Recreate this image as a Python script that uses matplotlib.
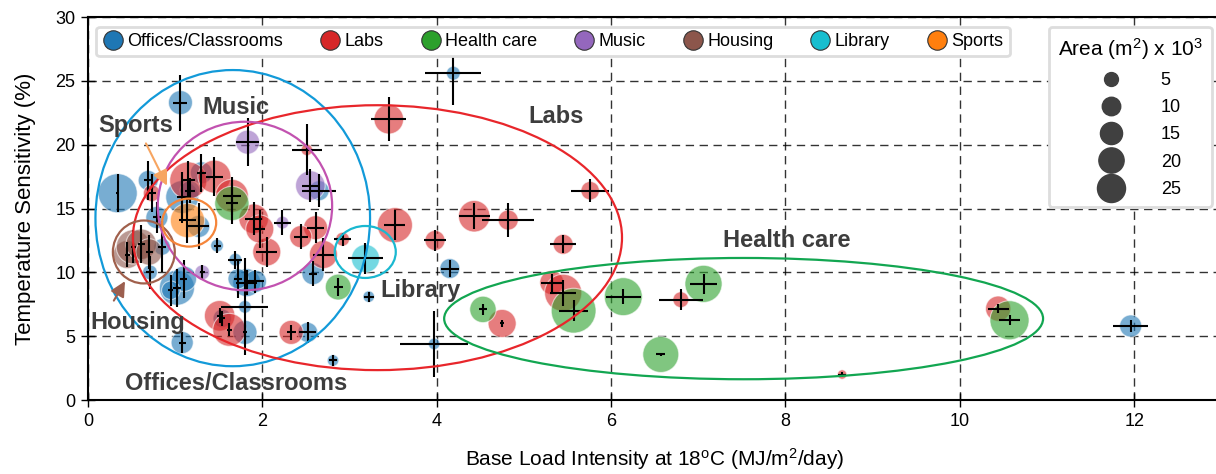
import numpy as np
import matplotlib
matplotlib.use("Agg")
import matplotlib.pyplot as plt
from matplotlib.patches import Ellipse
from matplotlib.lines import Line2D

plt.rcParams['font.family'] = ['Liberation Sans', 'DejaVu Sans']
plt.rcParams['mathtext.default'] = 'regular'

# ---- data: base load intensity (MJ/m2/day), temperature sensitivity (%),
#      floor area (10^3 m2), and uncertainty on both axes ----
off_x = [0.34, 1.06, 4.19, 4.15, 3.97, 3.22, 2.81, 2.52, 11.96, 1.08, 1.69, 2.58, 2.65,
         1.80, 1.82, 1.92, 1.72, 0.71, 1.02, 1.80, 1.48, 0.69, 0.79, 1.08, 0.85, 1.30,
         1.17, 1.54, 1.10, 0.95, 1.27]
off_y = [16.2, 23.3, 25.6, 10.3, 4.4, 8.1, 3.1, 5.3, 5.8, 4.5, 11.0, 9.9, 16.4,
         5.3, 9.2, 9.3, 9.5, 10.0, 8.8, 7.3, 12.1, 17.2, 14.3, 15.9, 12.0, 17.8,
         16.4, 6.4, 9.5, 8.6, 13.6]
off_area = [50, 18, 5, 12, 3, 3, 3, 12, 15, 15, 4, 15, 12,
            18, 25, 15, 12, 6, 40, 4, 4, 12, 15, 35, 8, 15,
            12, 10, 20, 10, 15]
off_xerr = [0.02, 0.08, 0.32, 0.10, 0.39, 0.06, 0.05, 0.10, 0.20, 0.04, 0.08, 0.05, 0.20,
            0.02, 0.12, 0.10, 0.05, 0.05, 0.05, 0.27, 0.04, 0.05, 0.05, 0.06, 0.05, 0.05,
            0.06, 0.03, 0.04, 0.03, 0.12]
off_yerr = [1.5, 2.2, 2.5, 0.7, 2.6, 0.4, 0.4, 0.8, 0.5, 0.8, 0.7, 1.0, 1.3,
            0.6, 1.0, 0.9, 1.5, 1.3, 1.5, 3.8, 0.6, 1.5, 1.2, 2.0, 2.0, 1.5,
            1.0, 0.6, 1.5, 1.2, 1.8]

lab_x = [3.45, 2.51, 5.76, 4.43, 4.82, 5.45, 3.98, 3.52, 2.92, 2.70, 2.61, 2.44, 2.05,
         1.90, 1.97, 2.33, 5.32, 5.45, 4.75, 6.80, 8.65, 10.44, 1.51, 1.62, 1.15, 1.45,
         1.65, 0.73]
lab_y = [22.0, 19.6, 16.4, 14.4, 14.1, 12.2, 12.5, 13.7, 12.6, 11.4, 13.5, 12.8, 11.6,
         14.2, 13.4, 5.3, 9.2, 8.4, 6.0, 7.86, 2.0, 7.16, 6.6, 5.5, 17.2, 17.5,
         16.0, 16.2]
lab_area = [28, 3, 10, 32, 12, 12, 12, 40, 5, 25, 18, 15, 25,
            28, 25, 18, 18, 45, 25, 7, 1.5, 20, 30, 35, 45, 35,
            35, 8]
lab_xerr = [0.20, 0.17, 0.22, 0.18, 0.30, 0.15, 0.13, 0.12, 0.10, 0.12, 0.10, 0.08, 0.12,
            0.10, 0.06, 0.05, 0.12, 0.15, 0.02, 0.25, 0.05, 0.12, 0.03, 0.03, 0.08, 0.10,
            0.10, 0.05]
lab_yerr = [1.7, 2.0, 0.9, 1.0, 1.3, 0.7, 0.8, 1.2, 0.5, 1.3, 1.2, 1.0, 1.2,
            1.3, 1.5, 0.6, 0.7, 1.0, 0.3, 0.8, 0.2, 0.35, 0.6, 0.5, 1.5, 1.5,
            1.5, 1.5]

hc_x = [2.87, 4.53, 5.57, 6.14, 7.06, 6.57, 10.57, 1.65]
hc_y = [8.85, 7.1, 7.0, 8.1, 9.1, 3.57, 6.25, 15.4]
hc_area = [21, 22, 66, 47, 45, 42, 50, 38]
hc_xerr = [0.05, 0.05, 0.17, 0.20, 0.16, 0.05, 0.12, 0.07]
hc_yerr = [0.7, 0.4, 0.8, 0.6, 0.8, 0.15, 0.4, 1.6]

mus_x = [1.83, 2.55, 2.23, 1.31]
mus_y = [20.2, 16.8, 13.9, 10.0]
mus_area = [18, 28, 4, 6]
mus_xerr = [0.13, 0.10, 0.10, 0.03]
mus_yerr = [1.9, 1.3, 1.0, 0.6]

hou_x = [0.45, 0.52, 0.61, 0.70]
hou_y = [11.4, 12.0, 12.2, 11.6]
hou_area = [25, 38, 30, 22]
hou_xerr = [0.03, 0.03, 0.04, 0.04]
hou_yerr = [1.0, 1.3, 1.5, 1.3]

lib_x = [3.18]
lib_y = [11.1]
lib_area = [25]
lib_xerr = [0.20]
lib_yerr = [1.2]

spo_x = [1.14]
spo_y = [14.1]
spo_area = [38]
spo_xerr = [0.10]
spo_yerr = [1.8]

categories = ['Offices/Classrooms', 'Labs', 'Health care', 'Music',
              'Housing', 'Library', 'Sports']
colors = ['#1f77b4', '#d62728', '#2ca02c', '#9467bd', '#8c564b', '#17becf', '#ff7f0e']

# group outlines: centre x, centre y, width, height
ell_x = [1.66, 3.32, 7.52, 1.80, 0.64, 3.18, 1.16]
ell_y = [14.25, 12.72, 6.38, 15.2, 11.6, 11.6, 13.9]
ell_w = [3.15, 5.61, 6.87, 2.00, 0.71, 0.70, 0.62]
ell_h = [23.2, 20.75, 9.5, 13.2, 4.93, 4.07, 3.76]
ell_colors = ['#129ad9', '#e8262b', '#12a651', '#c252b0', '#a0604c', '#1ab8d0', '#f5853a']

legend_areas = [5, 10, 15, 20, 25]


def marker_size(area):
    return 15.4 * np.asarray(area, dtype=float) + 23


series = [
    (off_x, off_y, off_area, off_xerr, off_yerr),
    (lab_x, lab_y, lab_area, lab_xerr, lab_yerr),
    (hc_x, hc_y, hc_area, hc_xerr, hc_yerr),
    (mus_x, mus_y, mus_area, mus_xerr, mus_yerr),
    (hou_x, hou_y, hou_area, hou_xerr, hou_yerr),
    (lib_x, lib_y, lib_area, lib_xerr, lib_yerr),
    (spo_x, spo_y, spo_area, spo_xerr, spo_yerr),
]

fig = plt.figure(figsize=(12.16, 4.74), dpi=100)
ax = fig.add_axes([0.0724, 0.156, 0.932, 0.808])

for (x, y, a, xe, ye), c in zip(series, colors):
    ax.scatter(x, y, s=marker_size(a), color=c, alpha=0.6,
               edgecolor='white', linewidth=0.8, zorder=3)
for (x, y, a, xe, ye) in series:
    ax.errorbar(x, y, xerr=xe, yerr=ye, fmt='none', ecolor='black',
                elinewidth=1.5, capsize=0, zorder=4)

for cx, cy, w, h, ec in zip(ell_x, ell_y, ell_w, ell_h, ell_colors):
    ax.add_patch(Ellipse((cx, cy), w, h, fill=False, edgecolor=ec,
                         linewidth=1.6, zorder=5))

# group names
txt_kw = dict(fontsize=17, fontweight='bold', color='#3d3d3d',
              ha='center', va='center', zorder=6)
ax.text(1.70, 22.9, 'Music', **txt_kw)
ax.text(0.55, 21.5, 'Sports', **txt_kw)
ax.text(5.37, 22.2, 'Labs', **txt_kw)
ax.text(8.02, 12.5, 'Health care', **txt_kw)
ax.text(3.81, 8.6, 'Library', **txt_kw)
ax.text(0.57, 6.1, 'Housing', **txt_kw)
ax.text(1.70, 1.33, 'Offices/Classrooms', **txt_kw)

ax.annotate('', xy=(0.92, 16.6), xytext=(0.65, 20.3),
            arrowprops=dict(arrowstyle='-|>,head_length=0.9,head_width=0.45',
                            color='#f7a561', lw=1.5), zorder=6)
ax.annotate('', xy=(0.44, 9.5), xytext=(0.28, 7.6),
            arrowprops=dict(arrowstyle='-|>,head_length=0.9,head_width=0.45',
                            color='#9c5f4f', lw=1.5), zorder=6)

ax.set_xlim(0, 13)
ax.set_ylim(0, 30)
ax.set_xticks([0, 2, 4, 6, 8, 10, 12])
ax.set_yticks([0, 5, 10, 15, 20, 25, 30])
ax.grid(True, color='black', linestyle=(0, (6, 4)), linewidth=1.0, alpha=0.8)
ax.set_axisbelow(True)
ax.tick_params(direction='inout', length=10, width=1, labelsize=13, pad=4)
for side in ['top', 'left', 'bottom', 'right']:
    ax.spines[side].set_linewidth(1.5)
    ax.spines[side].set_color('black')

ax.set_xlabel('Base Load Intensity at 18$^o$C (MJ/m$^2$/day)', fontsize=15, labelpad=12)
ax.set_ylabel('Temperature Sensitivity (%)', fontsize=16, labelpad=14)

# category legend
handles = [Line2D([], [], ls='', marker='o', markersize=14, markerfacecolor=c,
                  markeredgecolor='#333333', markeredgewidth=0.8) for c in colors]
leg1 = ax.legend(handles, categories, loc='upper left', bbox_to_anchor=(0.007, 0.975),
                 ncol=7, fontsize=13, frameon=True, fancybox=True, framealpha=1,
                 handletextpad=0.2, columnspacing=2.0, borderpad=0.35,
                 handlelength=1.2, borderaxespad=0)
leg1.get_frame().set_edgecolor('#dddddd')
leg1.get_frame().set_linewidth(2)
leg1.set_zorder(10)
ax.add_artist(leg1)

# floor area legend
size_handles = [Line2D([], [], ls='', marker='o', markersize=np.sqrt(marker_size(a)),
                       markerfacecolor='#404040', markeredgecolor='#404040')
                for a in legend_areas]
leg2 = ax.legend(size_handles, [str(a) for a in legend_areas], loc='upper right',
                 bbox_to_anchor=(0.9915, 0.975), fontsize=13,
                 title='Area (m$^2$) x 10$^3$', title_fontsize=15,
                 frameon=True, fancybox=True, framealpha=1, labelspacing=0.57,
                 handletextpad=1.0, borderpad=0.5, handlelength=3.5,
                 borderaxespad=0)
leg2.get_frame().set_edgecolor('#dddddd')
leg2.get_frame().set_linewidth(2)
leg2.set_zorder(10)

fig.savefig('out.png', dpi=100)
